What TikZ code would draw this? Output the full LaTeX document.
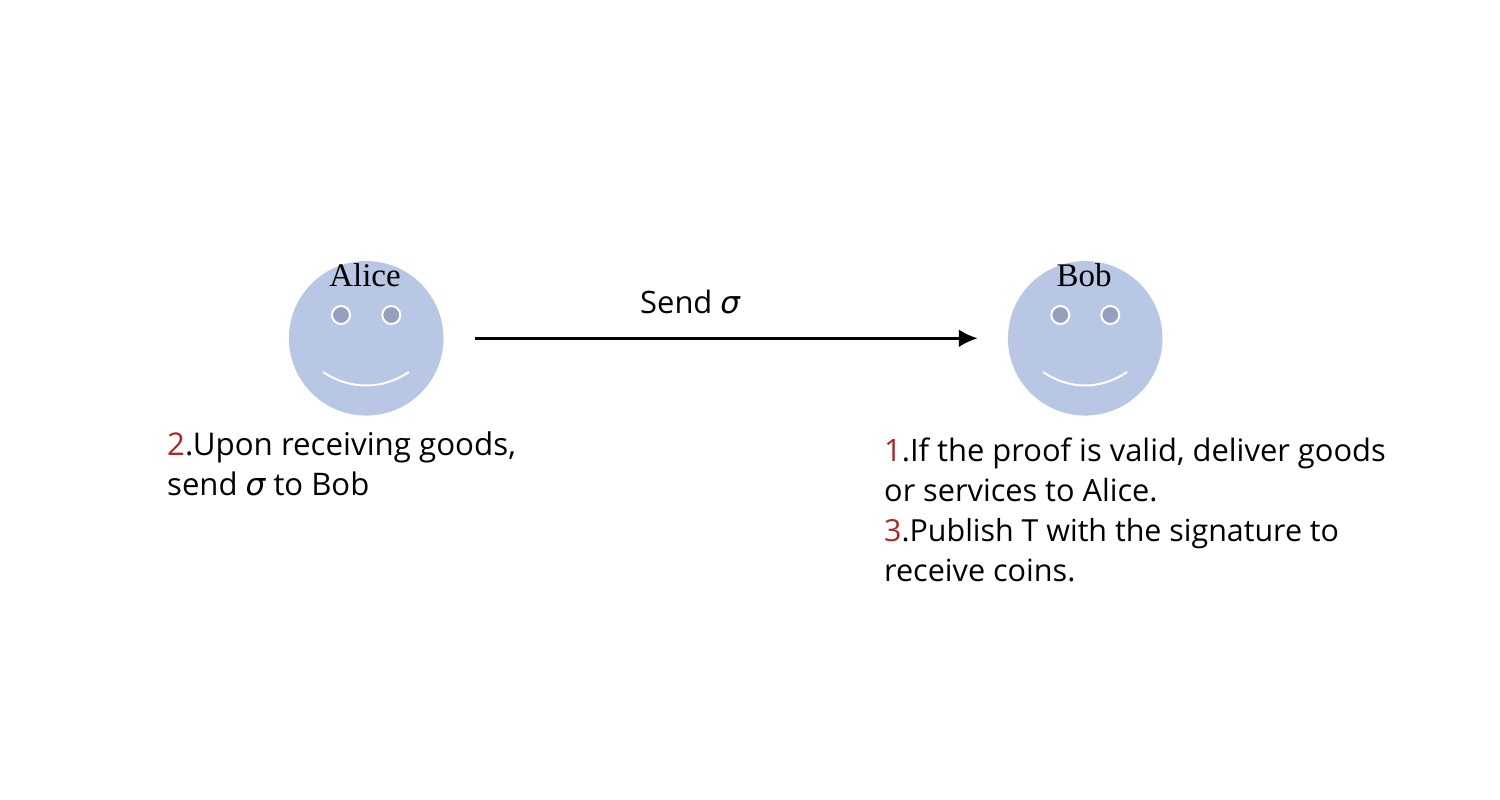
\documentclass[tikz,border=0pt]{standalone}
\usepackage{fontspec}
\setmainfont{Open Sans}
\newfontfamily\namefont{Liberation Serif}
\newfontfamily\sigfont{DejaVu Sans}[ItalicFont=* Oblique]
\definecolor{face}{HTML}{B8C7E3}
\definecolor{eye}{HTML}{95A1BC}
\definecolor{numred}{HTML}{A92A26}
\newcommand{\sgm}{{\sigfont\itshape σ}}
\newcommand{\rd}[1]{\textcolor{numred}{#1}}
\tikzset{
  facecirc/.style={circle,fill=face,draw=none,minimum size=154.5pt,inner sep=0pt},
  eyecirc/.style={circle,fill=eye,draw=white,line width=2pt,minimum size=18pt,inner sep=0pt},
  smile/.style={draw=white,line width=2pt},
  who/.style={inner sep=0pt,anchor=base,font=\namefont\fontsize{33}{33}\selectfont},
  body/.style={inner sep=0pt,anchor=base west,font=\fontsize{#1}{40}\selectfont},
  body/.default=30.9,
  send/.style={-{Latex[length=19pt,width=18pt]},line width=3pt,black}
}
\usetikzlibrary{arrows.meta}
\begin{document}
\begin{tikzpicture}[x=1pt,y=-1pt]
\useasboundingbox (0,0) rectangle (1500,800);
\fill[white] (0,0) rectangle (1500,800);
\node[facecirc] (alice) at (366.2,338.3) {};
\node[facecirc] (bob) at (1085.2,338.3) {};
\node[eyecirc] (ae1) at (341,315) {};
\node[eyecirc] (ae2) at (391.3,315) {};
\node[eyecirc] (be1) at (1060.3,315) {};
\node[eyecirc] (be2) at (1110.3,315) {};
\coordinate (as1) at (323,372); \coordinate (as2) at (409,372);
\coordinate (bs1) at (1043,372); \coordinate (bs2) at (1127,372);
\draw[smile] (as1) .. controls (350,390) and (382,390) .. (as2);
\draw[smile] (bs1) .. controls (1070,390) and (1100,390) .. (bs2);
\node[who] (aname) at (365,286) {Alice};
\node[who] (bname) at (1084,286) {Bob};
\draw[send,shorten <=31.5pt,shorten >=30pt] (alice) -- (bob);
\node[body] (sendlab) at (640,313) {Send \sgm};
\node[body=31.3] (a1) at (167,455) {\rd{2}.Upon receiving goods,};
\node[body=31.1] (a2) at (167,495) {send \sgm{} to Bob};
\node[body] (b1) at (884,461) {\rd{1}.If the proof is valid, deliver goods};
\node[body=30.7] (b2) at (884,501) {or services to Alice.};
\node[body=30.4] (b3) at (884,541) {\rd{3}.Publish T with the signature to};
\node[body=30.6] (b4) at (884,581) {receive coins.};
\end{tikzpicture}
\end{document}
